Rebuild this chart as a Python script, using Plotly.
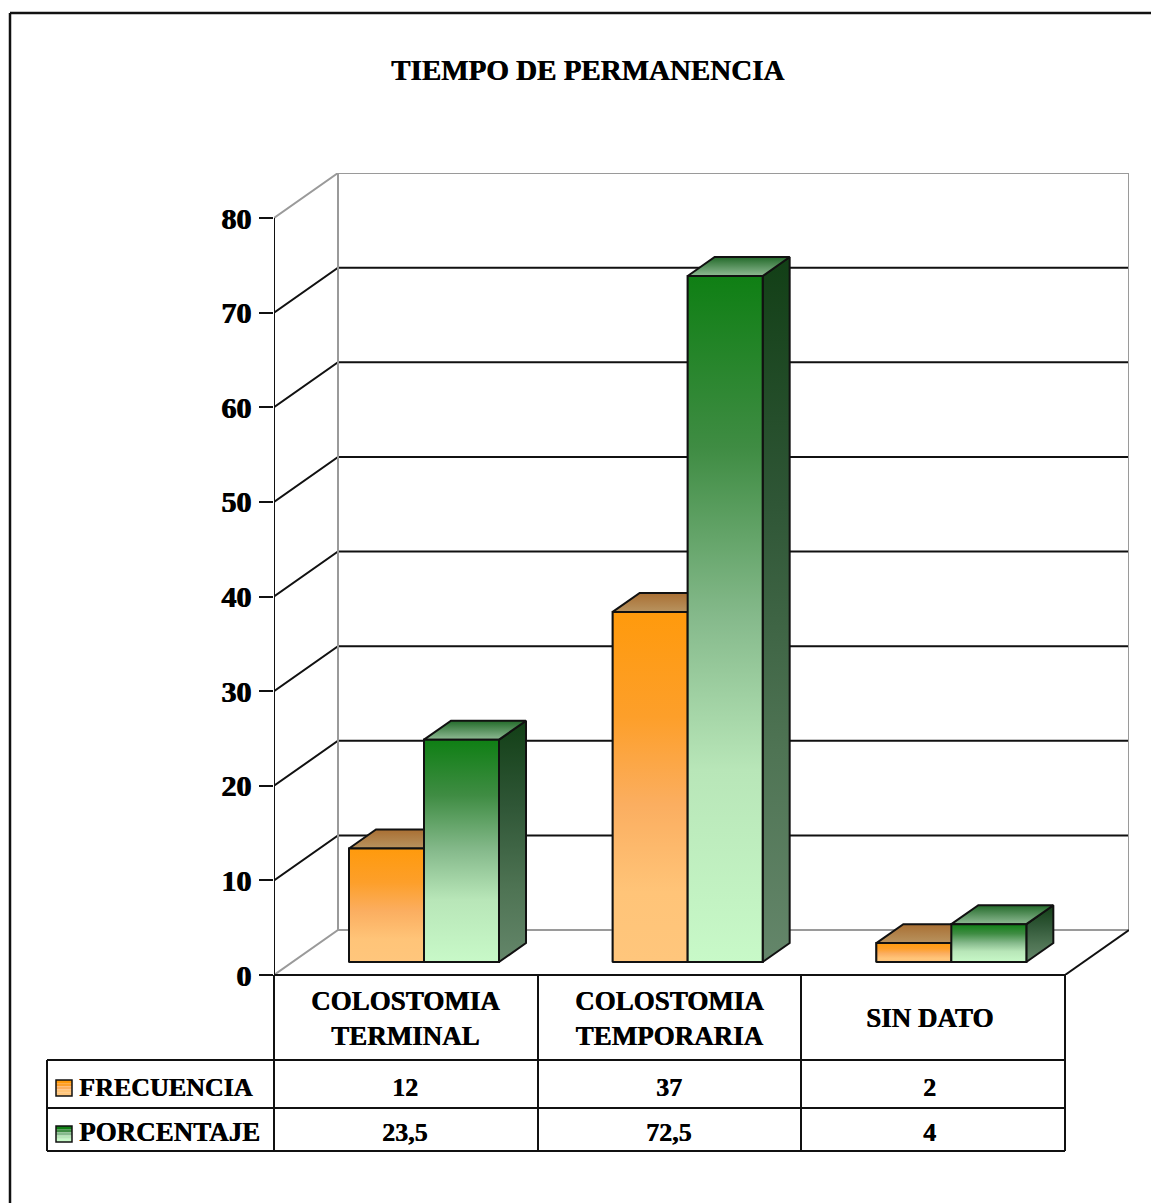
import plotly.graph_objects as go

title = "TIEMPO DE PERMANENCIA"
categories = ["COLOSTOMIA<br>TERMINAL", "COLOSTOMIA<br>TEMPORARIA", "SIN DATO"]
frecuencia = [12, 37, 2]
porcentaje = [23.5, 72.5, 4]
y_ticks = [0, 10, 20, 30, 40, 50, 60, 70, 80]

W, H = 1151, 1203
PX_L, PX_R, PX_T, PX_B = 274, 1129, 173, 975    # plot area in page pixels
X_UNIT = (1065 - 274) / 3                        # pixels per category
Y_UNIT = (975 - 218) / 80                        # pixels per value unit
WALL_DX, WALL_DY = 64 / X_UNIT, 45 / Y_UNIT
BAR_W = 75 / X_UNIT
BAR_DX, BAR_DY = 27 / X_UNIT, 2.0
FLOOR_DX, FLOOR_DY = 17 / X_UNIT, 13 / Y_UNIT
X_MAX, Y_MAX = 3 + WALL_DX, 80 + WALL_DY


def xp(px):
    return (px - PX_L) / (PX_R - PX_L)


def yp(py):
    return (PX_B - py) / (PX_B - PX_T)


FONT = "Liberation Serif"
BLACK = "#111111"
GREY = "#9a9a9a"
HEAVY = "0.6px 0 0 #000000"

# colour stops listed from the top of a face to its bottom
ORANGE = {
    "front": [[0, "#ff9a0c"], [0.3, "#fd9f2a"], [0.55, "#fbae60"], [0.8, "#ffc478"], [1, "#ffc67c"]],
    "top": [[0, "#a96f33"], [1, "#b8935f"]],
    "solid": "#fbae60",
}
GREEN = {
    "front": [[0, "#0f7f14"], [0.25, "#3f8c43"], [0.5, "#86ba8c"], [0.72, "#b8e6b8"], [1, "#c8f9c8"]],
    "side": [[0, "#123f16"], [0.35, "#2f5636"], [0.7, "#4f7454"], [1, "#64866a"]],
    "top": [[0, "#236a2a"], [1, "#8fbb94"]],
    "solid": "#86ba8c",
}


def flip(scale):
    return [[1 - s, c] for s, c in reversed(scale)]


fig = go.Figure()


def line(xs, ys, color=BLACK, width=2):
    fig.add_trace(go.Scatter(x=xs, y=ys, mode="lines", line=dict(color=color, width=width),
                             hoverinfo="skip", showlegend=False))


def face(xs, ys, scale):
    fig.add_trace(go.Scatter(x=xs + xs[:1], y=ys + ys[:1], mode="lines", fill="toself",
                             fillgradient=dict(type="vertical", colorscale=flip(scale)),
                             line=dict(color=BLACK, width=2),
                             hoverinfo="skip", showlegend=False))


# real bars underneath the shaded faces
for name, vals, style, off in (("FRECUENCIA", frecuencia, ORANGE, 0), ("PORCENTAJE", porcentaje, GREEN, 1)):
    fig.add_trace(go.Bar(name=name, x=[i + FLOOR_DX + (58 + 37.5) / X_UNIT + off * BAR_W for i in range(3)],
                         y=vals, base=FLOOR_DY, width=BAR_W,
                         marker=dict(color=style["solid"], line=dict(color=BLACK, width=1.6)),
                         showlegend=False))

# walls
for v in y_ticks[1:-1]:
    line([0, WALL_DX, X_MAX], [v, v + WALL_DY, v + WALL_DY])
line([0, WALL_DX, X_MAX], [80, Y_MAX, Y_MAX], GREY)
line([0, WALL_DX, X_MAX], [0, WALL_DY, WALL_DY], GREY)
line([WALL_DX, WALL_DX], [WALL_DY, Y_MAX], GREY)
line([X_MAX, X_MAX], [WALL_DY, Y_MAX], GREY)
line([3, X_MAX], [0, WALL_DY])

# vertical axis
line([0, 0], [0, 80], BLACK, 2)

# shaded 3-D faces
for i in range(3):
    x0 = i + FLOOR_DX + 58 / X_UNIT
    x1, x2 = x0 + BAR_W, x0 + 2 * BAR_W
    b = FLOOR_DY
    f, p = b + frecuencia[i], b + porcentaje[i]
    face([x0, x1, x1 + BAR_DX, x0 + BAR_DX], [f, f, f + BAR_DY, f + BAR_DY], ORANGE["top"])
    face([x0, x1, x1, x0], [b, b, f, f], ORANGE["front"])
    face([x2, x2 + BAR_DX, x2 + BAR_DX, x2], [b, b + BAR_DY, p + BAR_DY, p], GREEN["side"])
    face([x1, x2, x2 + BAR_DX, x1 + BAR_DX], [p, p, p + BAR_DY, p + BAR_DY], GREEN["top"])
    face([x1, x2, x2, x1], [b, b, p, p], GREEN["front"])

shapes = []


def seg(x0, y0, x1, y1, width=2):
    shapes.append(dict(type="line", xref="paper", yref="paper", x0=xp(x0), y0=yp(y0), x1=xp(x1), y1=yp(y1),
                       line=dict(color=BLACK, width=width)))


# page frame
seg(10, 13, 1151, 13, 2.5)
seg(10, 13, 10, 1203, 2.5)

# data table
seg(274, 975, 1065, 975)
seg(47, 1060, 1065, 1060)
seg(47, 1108, 1065, 1108)
seg(47, 1151, 1065, 1151)
seg(47, 1060, 47, 1151)
seg(274, 975, 274, 1151)
seg(538, 975, 538, 1151)
seg(801, 975, 801, 1151)
seg(1065, 975, 1065, 1151)


def swatch(top, scale):
    n = len(scale)
    for k in range(n):
        shapes.append(dict(type="rect", xref="paper", yref="paper", layer="above",
                           x0=xp(56), x1=xp(72), y0=yp(top + 16 * k / n), y1=yp(top + 16 * (k + 1) / n),
                           line=dict(width=0), fillcolor=scale[k][1]))
    shapes.append(dict(type="rect", xref="paper", yref="paper", layer="above",
                       x0=xp(56), x1=xp(72), y0=yp(top), y1=yp(top + 16),
                       line=dict(color=BLACK, width=1.5)))


swatch(1080, ORANGE["front"])
swatch(1126, GREEN["front"])

annotations = []


def label(text, px, py, size=26, anchor="center"):
    annotations.append(dict(text=text, xref="paper", yref="paper", x=xp(px), y=yp(py), showarrow=False,
                            xanchor=anchor, yanchor="middle", align="center",
                            font=dict(family=FONT, size=size, color="#000000", shadow=HEAVY)))


label(f"<b>{title}</b>", 587.5, 70, 29)
centers = [405, 669, 929]
for c, cat, fr, po in zip(centers, categories, frecuencia, porcentaje):
    label(f"<b>{cat}</b>", c, 1018, 27)
    label(f"<b>{fr}</b>", c, 1087, 26)
    label(f"<b>{str(po).replace('.', ',')}</b>", c, 1132, 26)
label("<b>FRECUENCIA</b>", 77, 1087, 26, "left")
label("<b>PORCENTAJE</b>", 77, 1132, 27, "left")

fig.update_layout(
    width=W, height=H, autosize=False,
    margin=dict(l=PX_L, r=W - PX_R, t=PX_T, b=H - PX_B, pad=0),
    paper_bgcolor="white", plot_bgcolor="white",
    showlegend=False, barmode="overlay",
    shapes=shapes, annotations=annotations,
    xaxis=dict(range=[0, X_MAX], visible=False, fixedrange=True),
    yaxis=dict(range=[0, Y_MAX], tickvals=y_ticks, ticks="outside", ticklen=14, tickwidth=2, tickcolor=BLACK,
               showgrid=False, zeroline=False, showline=False, fixedrange=True, ticklabelstandoff=2,
               tickfont=dict(family=FONT, size=30, color="#000000", weight="bold", shadow="1px 0 0 #000000")),
)

fig.write_html("out.html", config=dict(displayModeBar=False),
               post_script="document.body.style.margin='0';document.body.style.overflow='hidden';")
